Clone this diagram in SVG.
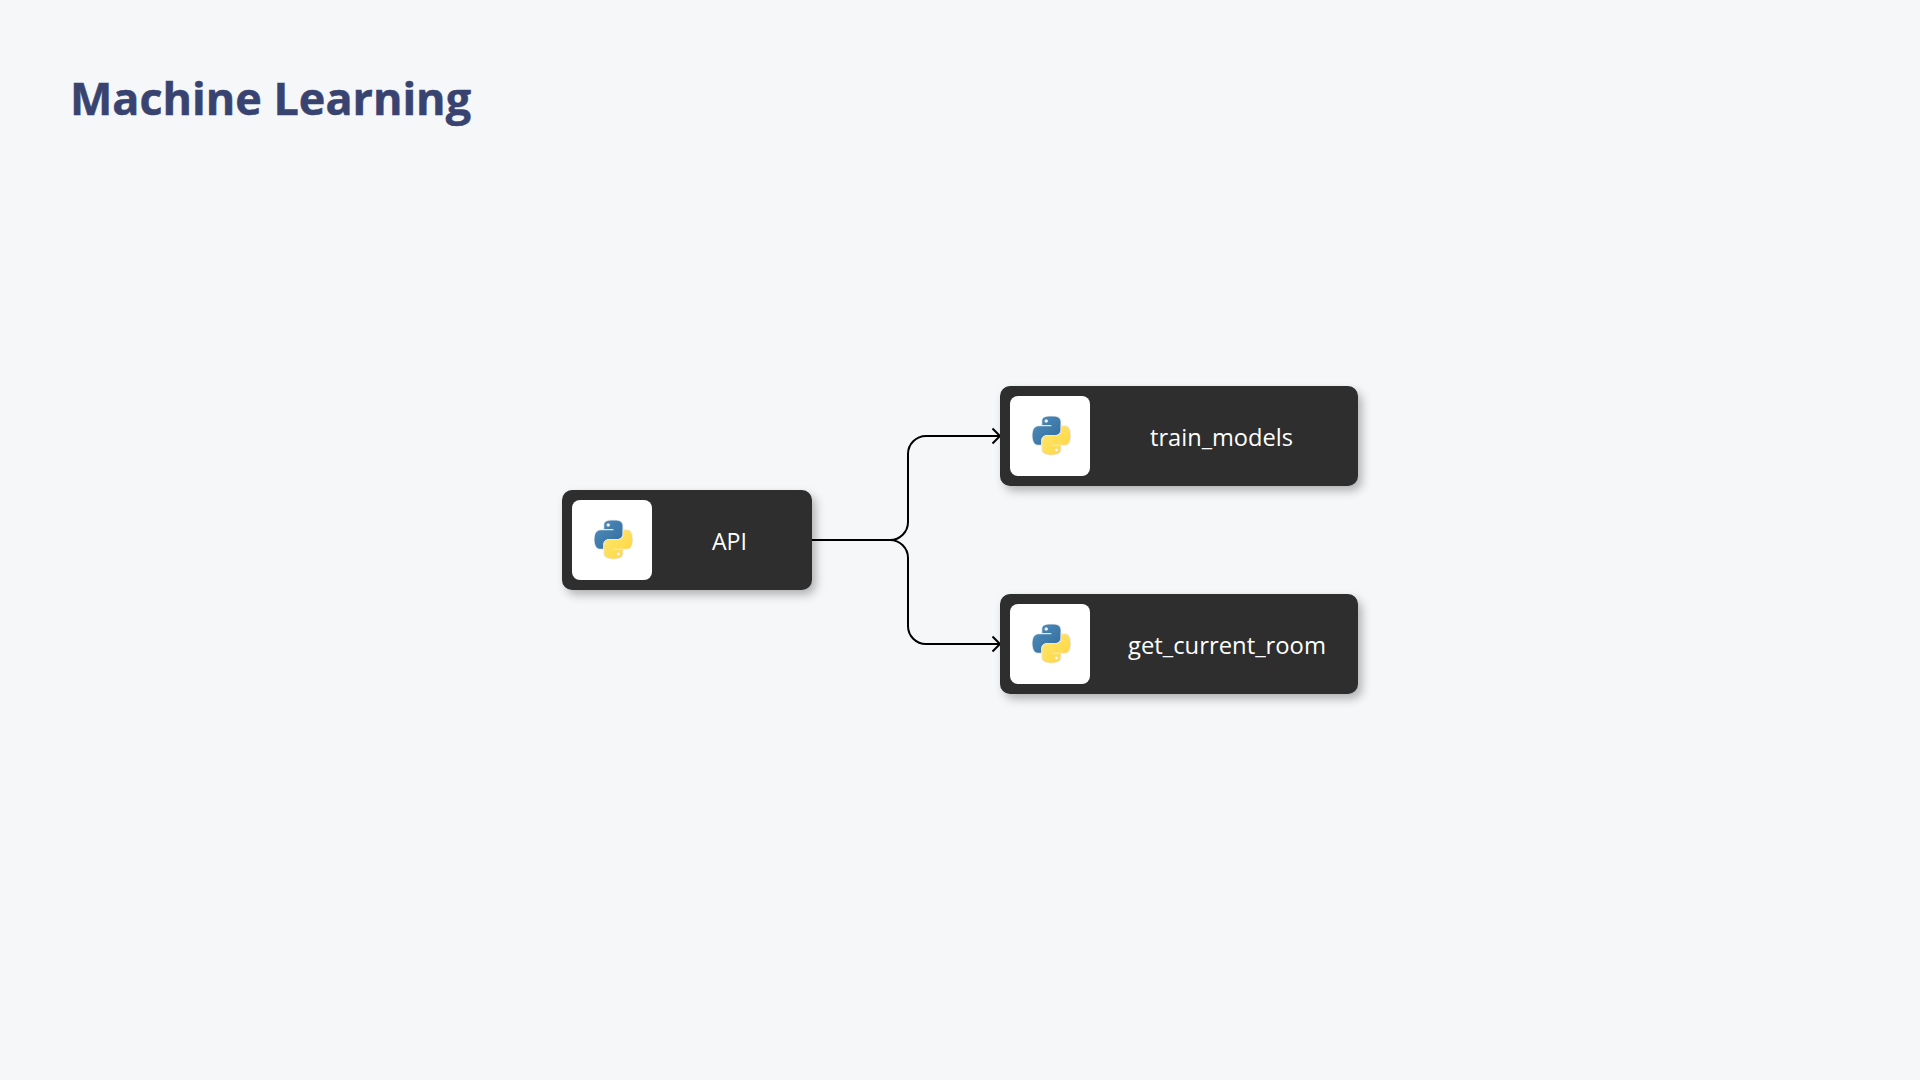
<svg xmlns="http://www.w3.org/2000/svg" width="1920" height="1080" viewBox="0 0 1920 1080">
<style>
.box{fill:#2d2d2d;filter:url(#sh)}
.ico{fill:#fff}
.lbl{font-family:"Open Sans","Liberation Sans",sans-serif;font-weight:400;font-size:23px;fill:#fff}
.title{font-family:"Open Sans","Liberation Sans",sans-serif;font-weight:700;font-size:44px;fill:#394370;stroke:#394370;stroke-width:.5}
.wire{fill:none;stroke:#000;stroke-width:2}
</style>
<defs>
<filter id="sh" x="-10%" y="-20%" width="125%" height="150%"><feDropShadow dx="4" dy="5" stdDeviation="5" flood-color="#000" flood-opacity=".28"/></filter>
<linearGradient id="b" x1="0" y1="0" x2="1" y2="1"><stop offset="0" stop-color="#4f8fc0"/><stop offset="1" stop-color="#316a99"/></linearGradient>
<linearGradient id="y" x1="0" y1="0" x2="1" y2="1"><stop offset="0" stop-color="#ffe873"/><stop offset="1" stop-color="#ffd43b"/></linearGradient>
<marker id="arr" markerUnits="userSpaceOnUse" markerWidth="12" markerHeight="18" refX="9" refY="9" orient="auto"><path d="M1.5 1.5L9 9L1.5 16.500" fill="none" stroke="#000" stroke-width="2"/></marker>
<g id="py">
<path id="pb" fill="url(#b)" stroke="#e6e6e6" stroke-width="5" paint-order="stroke" d="M54.919 0c-4.584.022-8.961.413-12.813 1.095C30.76 3.099 28.7 7.295 28.7 15.032v10.219h26.813v3.406H18.64c-7.792 0-14.616 4.684-16.75 13.594-2.462 10.213-2.571 16.586 0 27.25 1.906 7.938 6.458 13.594 14.25 13.594h9.218v-12.25c0-8.85 7.657-16.656 16.75-16.656h26.782c7.455 0 13.406-6.138 13.406-13.625v-25.531c0-7.266-6.13-12.725-13.406-13.937C64.282.328 59.502-.02 54.918 0zm-14.5 8.219c2.77 0 5.031 2.299 5.031 5.125 0 2.816-2.262 5.094-5.031 5.094-2.78 0-5.031-2.278-5.031-5.094 0-2.826 2.252-5.125 5.031-5.125z"/>
<path id="py2" fill="url(#y)" stroke="#e6e6e6" stroke-width="5" paint-order="stroke" d="M85.638 28.657v11.906c0 9.231-7.826 17-16.75 17H42.106c-7.336 0-13.406 6.279-13.406 13.625v25.531c0 7.266 6.319 11.54 13.406 13.625 8.488 2.496 16.627 2.947 26.782 0 6.75-1.954 13.406-5.888 13.406-13.625V86.5H55.513v-3.406H95.7c7.793 0 10.696-5.436 13.406-13.594 2.8-8.399 2.68-16.476 0-27.25-1.926-7.757-5.604-13.594-13.406-13.594zM70.575 93.313c2.78 0 5.031 2.278 5.031 5.094 0 2.826-2.252 5.125-5.031 5.125-2.77 0-5.031-2.299-5.031-5.125 0-2.816 2.262-5.094 5.031-5.094z"/>
</g>
</defs>
<rect width="1920" height="1080" fill="#f5f7f9"/>
<text class="title" x="70" y="115" textLength="401" lengthAdjust="spacingAndGlyphs">Machine Learning</text>
<g id="connectors">
<path class="wire" marker-end="url(#arr)" d="M812 540H890A18 18 0 0 0 908 522V454A18 18 0 0 1 926 436H1000"/>
<path class="wire" marker-end="url(#arr)" d="M812 540H890A18 18 0 0 1 908 558V626A18 18 0 0 0 926 644H1000"/>
</g>
<g id="node-api">
<rect class="box" x="562" y="490" width="250" height="100" rx="10"/>
<rect class="ico" x="572" y="500" width="80" height="80" rx="8"/>
<use href="#py" transform="translate(594.500 520.500) scale(.34)"/>
<text class="lbl" x="712" y="549.500" textLength="35" lengthAdjust="spacingAndGlyphs">API</text>
</g>
<g id="node-train-models">
<rect class="box" x="1000" y="386" width="358" height="100" rx="10"/>
<rect class="ico" x="1010" y="396" width="80" height="80" rx="8"/>
<use href="#py" transform="translate(1032.500 416.500) scale(.34)"/>
<text class="lbl" x="1150" y="445.500" textLength="143" lengthAdjust="spacingAndGlyphs">train_models</text>
</g>
<g id="node-get-current-room">
<rect class="box" x="1000" y="594" width="358" height="100" rx="10"/>
<rect class="ico" x="1010" y="604" width="80" height="80" rx="8"/>
<use href="#py" transform="translate(1032.500 624.500) scale(.34)"/>
<text class="lbl" x="1128" y="653.500" textLength="198" lengthAdjust="spacingAndGlyphs">get_current_room</text>
</g>
</svg>
